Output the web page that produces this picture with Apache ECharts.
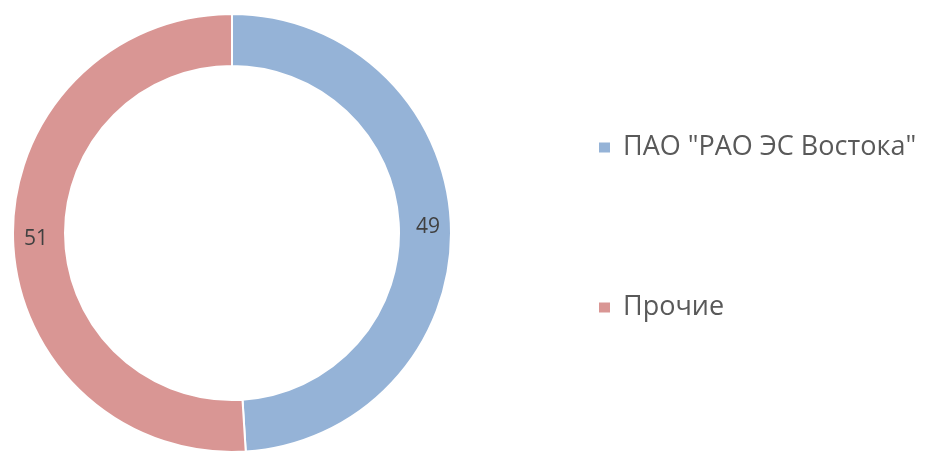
<!DOCTYPE html>
<html>
<head>
<meta charset="utf-8">
<script src="https://cdn.jsdelivr.net/npm/echarts@6/dist/echarts.min.js"></script>
<style>
html,body{margin:0;padding:0;background:#fff;}
#c{width:936px;height:452px;}
</style>
</head>
<body>
<div id="c"></div>
<script>
const categories = ['ПАО "РАО ЭС Востока"', 'Прочие'];
const values = [49, 51];
const colors = ['#95b3d7', '#d99694'];

const chart = echarts.init(document.getElementById('c'));
chart.setOption({
  backgroundColor: '#ffffff',
  animation: false,
  legend: {
    orient: 'vertical',
    left: 597,
    top: 134,
    padding: 0,
    itemWidth: 13,
    itemHeight: 12,
    itemGap: 133,
    icon: 'rect',
    textStyle: { fontSize: 27, color: '#595959', fontFamily: 'Open Sans', padding: [0, 0, 0, 7] },
    data: categories
  },
  series: [{
    type: 'pie',
    center: [232, 233],
    radius: [167, 219],
    startAngle: 90,
    clockwise: true,
    avoidLabelOverlap: false,
    itemStyle: { borderColor: '#ffffff', borderWidth: 2 },
    label: {
      show: true,
      position: 'inside',
      formatter: '{c}',
      fontSize: 21,
      color: '#404040',
      fontFamily: 'Open Sans'
    },
    labelLine: { show: false },
    emphasis: { disabled: true },
    data: categories.map((n, i) => ({ name: n, value: values[i], itemStyle: { color: colors[i] } }))
  }]
});
</script>
</body>
</html>
